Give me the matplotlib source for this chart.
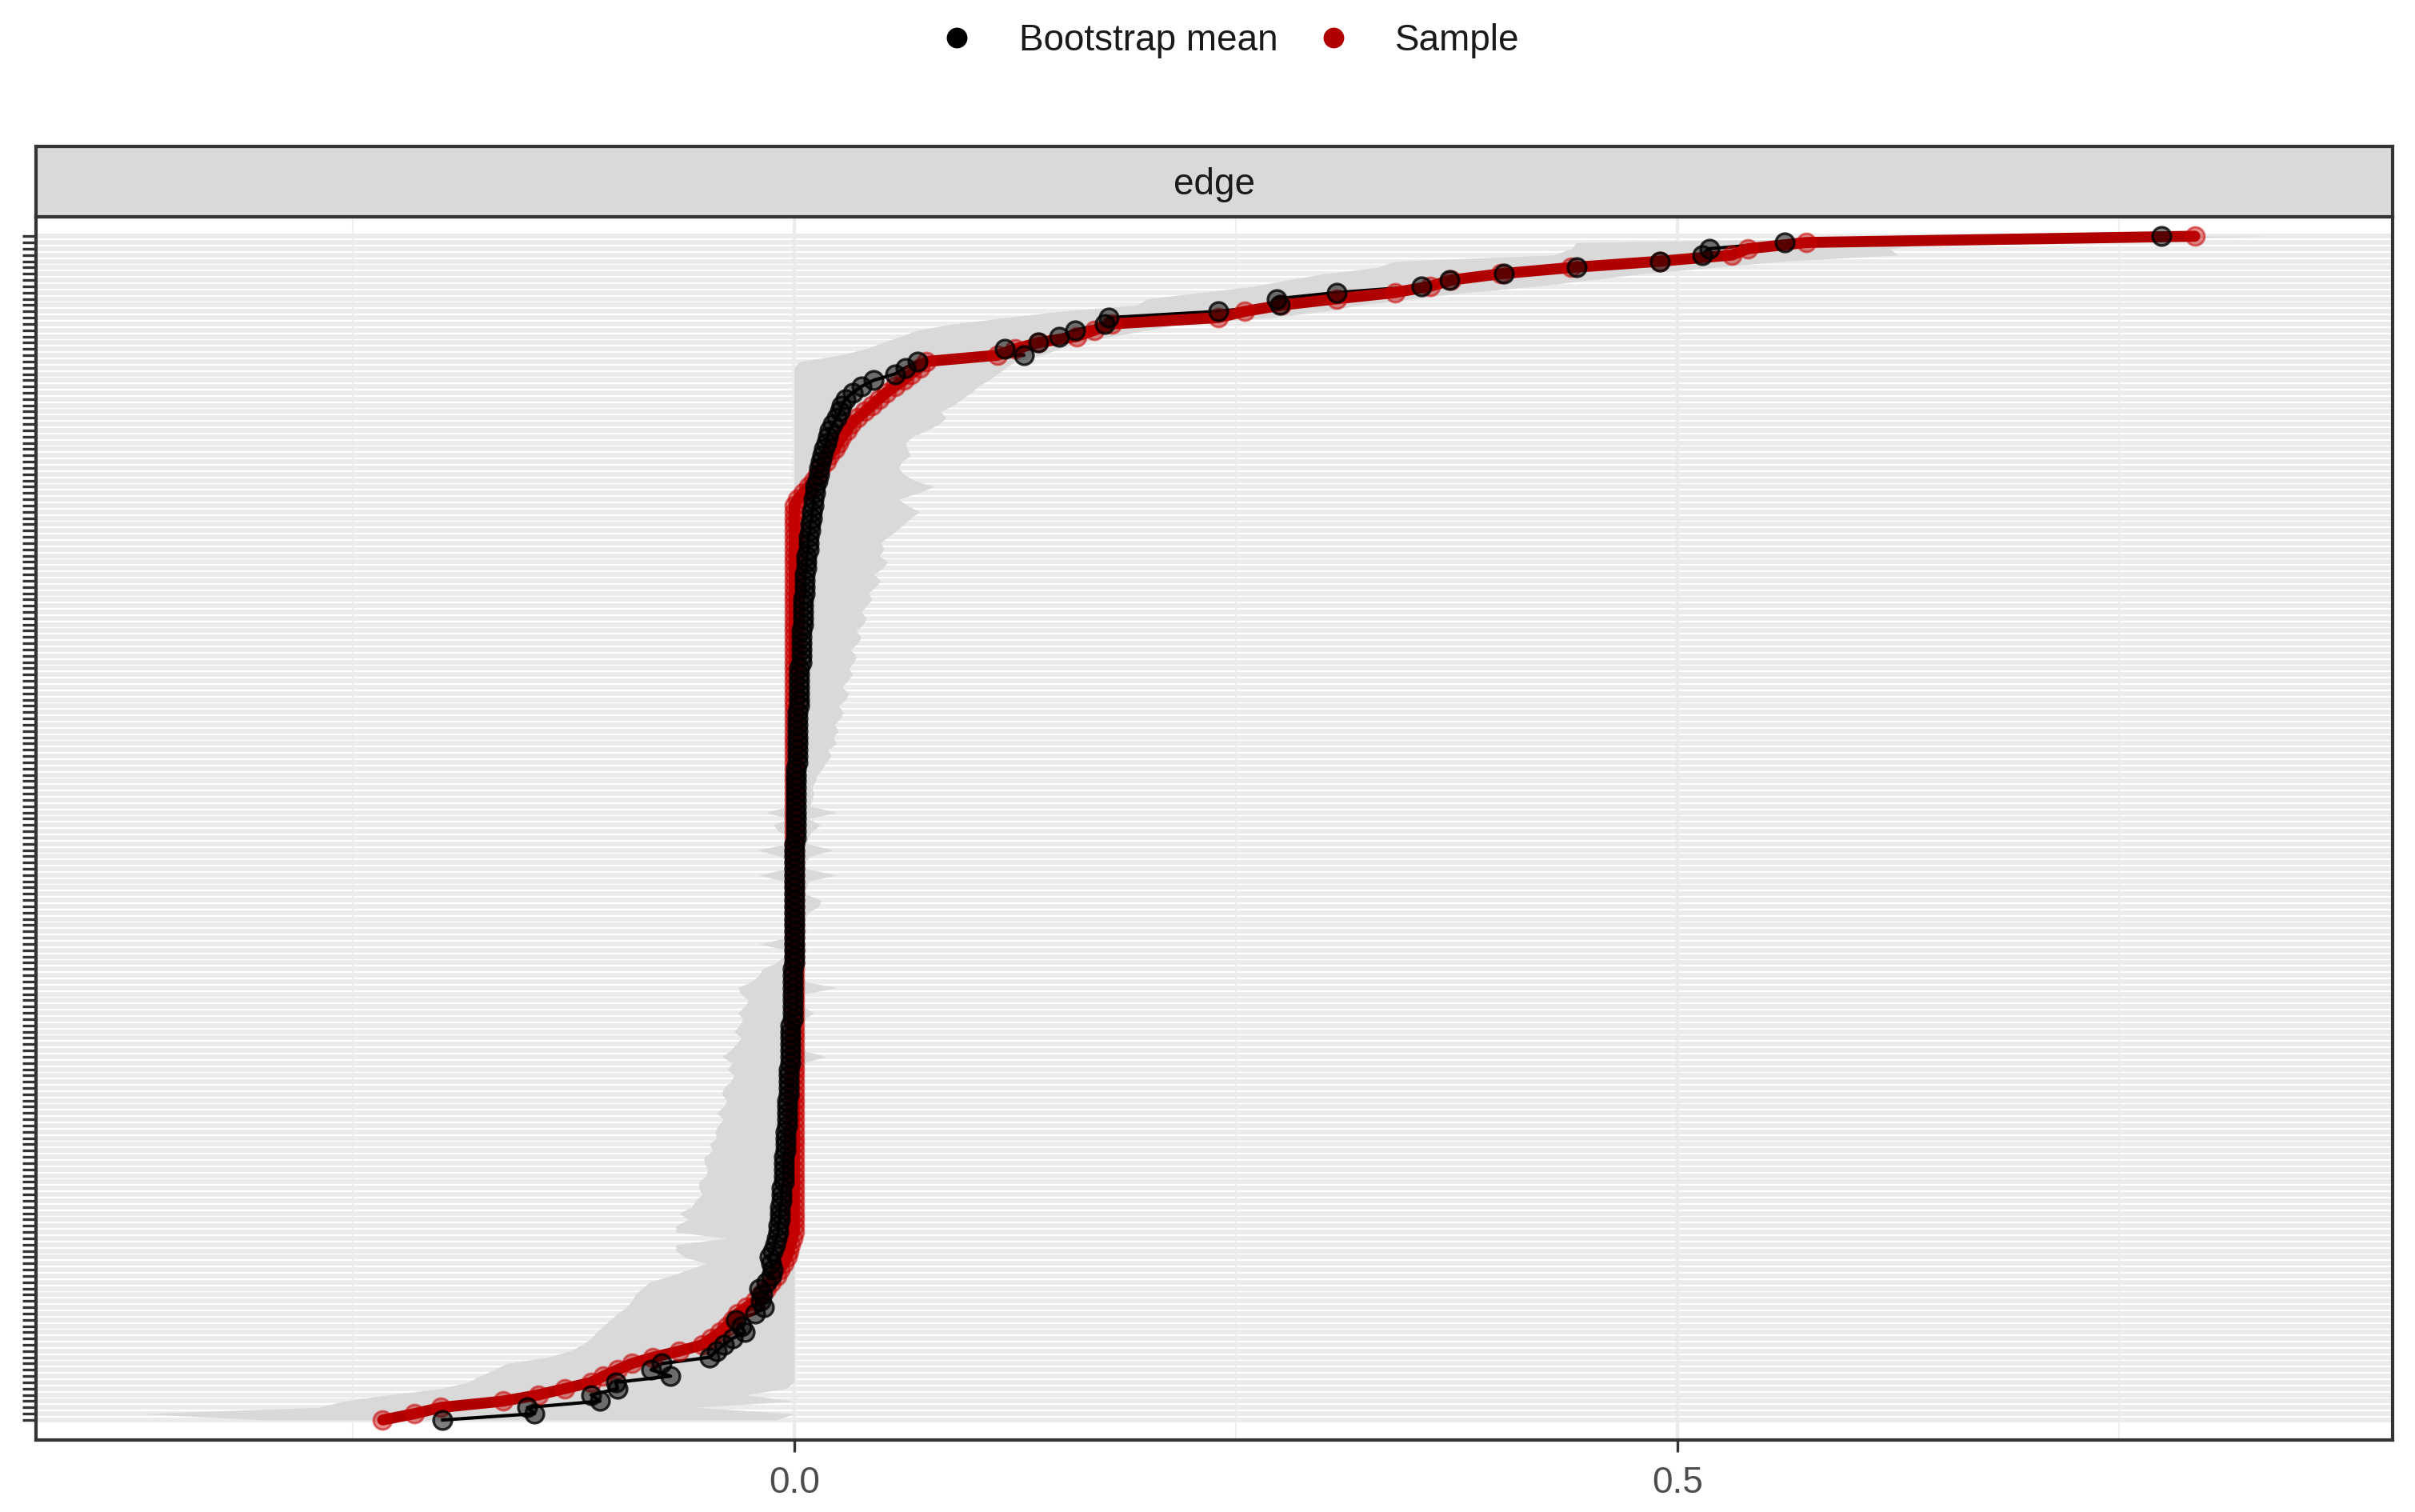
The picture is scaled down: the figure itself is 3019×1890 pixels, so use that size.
import numpy as np
import matplotlib
matplotlib.use("Agg")
import matplotlib.pyplot as plt
from matplotlib.lines import Line2D

plt.rcParams['font.family'] = ['Liberation Sans', 'DejaVu Sans']

# ---------------- data (rows ordered by sample value, bottom -> top) ----------------
sample = ([-0.233, -0.215, -0.200, -0.165, -0.145, -0.130, -0.115, -0.108, -0.100, -0.092,
           -0.080, -0.065, -0.052, -0.047, -0.042, -0.038, -0.035, -0.032, -0.027, -0.022,
           -0.019, -0.016, -0.013, -0.010, -0.008, -0.006, -0.004, -0.003, -0.002, -0.001]
          + [0.0] * 117 +
          [0.002, 0.005, 0.008, 0.011, 0.013, 0.015, 0.018, 0.020, 0.023, 0.025,
           0.027, 0.030, 0.032, 0.036, 0.040, 0.044, 0.048, 0.052, 0.057, 0.062,
           0.066, 0.071, 0.075, 0.115, 0.125, 0.138, 0.160, 0.170, 0.180, 0.240,
           0.255, 0.276, 0.307, 0.340, 0.360, 0.372, 0.400, 0.440, 0.490, 0.531,
           0.540, 0.573, 0.793])

boot_mean = [-0.199, -0.147, -0.151, -0.110, -0.115, -0.100, -0.101, -0.070, -0.081, -0.075,
             -0.048, -0.044, -0.040, -0.035, -0.028, -0.030, -0.033, -0.022, -0.017, -0.019,
             -0.018, -0.020, -0.016, -0.013, -0.012, -0.013, -0.014, -0.012, -0.011, -0.010,
             -0.009, -0.009, -0.008, -0.008, -0.008, -0.007, -0.007, -0.007, -0.006, -0.006,
             -0.006, -0.006, -0.006, -0.005, -0.005, -0.005, -0.005, -0.004, -0.004, -0.004,
             -0.004, -0.004, -0.003, -0.003, -0.003, -0.003, -0.003, -0.002, -0.002, -0.002,
             -0.002, -0.002, -0.002, -0.002, -0.001, -0.001, -0.001, -0.001, -0.001, -0.001,
             -0.001, -0.001, -0.001, 0.000, 0.000, 0.000, 0.000, 0.000, 0.000, 0.000,
             0.000, 0.000, 0.000, 0.000, 0.000, 0.000, 0.000, 0.000, 0.000, 0.000,
             0.000, 0.000, 0.000, 0.001, 0.001, 0.001, 0.001, 0.001, 0.001, 0.001,
             0.001, 0.001, 0.001, 0.001, 0.001, 0.002, 0.002, 0.002, 0.002, 0.002,
             0.002, 0.002, 0.002, 0.002, 0.003, 0.003, 0.003, 0.003, 0.003, 0.003,
             0.003, 0.004, 0.004, 0.004, 0.004, 0.004, 0.004, 0.005, 0.005, 0.005,
             0.005, 0.005, 0.006, 0.006, 0.006, 0.006, 0.007, 0.007, 0.007, 0.008,
             0.008, 0.008, 0.009, 0.009, 0.010, 0.010, 0.011,
             0.011, 0.012, 0.012, 0.013, 0.014, 0.014, 0.015, 0.016, 0.017, 0.018,
             0.019, 0.020, 0.022, 0.024, 0.026, 0.027, 0.029, 0.033, 0.038, 0.045,
             0.057, 0.063, 0.070, 0.130, 0.119, 0.138, 0.150, 0.159, 0.176, 0.178,
             0.240, 0.275, 0.273, 0.307, 0.355, 0.371, 0.402, 0.443, 0.490, 0.514,
             0.518, 0.561, 0.774]

ci_lower = ([-0.300, -0.370, -0.270, -0.255, -0.230, -0.200, -0.185, -0.178, -0.170, -0.163,
             -0.140, -0.127, -0.120, -0.115, -0.112, -0.108, -0.104, -0.100, -0.095, -0.092,
             -0.090, -0.086, -0.082, -0.070, -0.060, -0.050, -0.062, -0.067, -0.067, -0.038,
             -0.067, -0.067, -0.060, -0.065, -0.058, -0.056, -0.052, -0.054, -0.054, -0.050,
             -0.049, -0.051,
             -0.051, -0.046, -0.048, -0.044, -0.045, -0.043, -0.040, -0.044, -0.040, -0.038,
             -0.041, -0.040, -0.036, -0.034, -0.038, -0.035, -0.041, -0.036, -0.033, -0.030,
             -0.034, -0.031, -0.029, -0.032, -0.028, -0.026, -0.030, -0.032, -0.024, -0.020,
             -0.018,
             -0.010, -0.006, -0.004, -0.020, -0.004, -0.003, -0.003, -0.002, -0.004, -0.002,
             -0.002, -0.003, -0.002, -0.006, -0.020, -0.004, -0.002, -0.008, -0.021, -0.003,
             -0.002, -0.009, -0.012, -0.003, -0.016, -0.002, -0.001, -0.001, 0.000, 0.000,
             0.000]
            + [0.0] * 65 +
            [0.003, 0.026, 0.040, 0.050, 0.060, 0.070, 0.090, 0.120, 0.150, 0.194,
             0.200, 0.230, 0.260, 0.279, 0.300, 0.330, 0.340, 0.430, 0.440, 0.443,
             0.686])

ci_upper = [-0.010, 0.000, -0.056, 0.000, -0.028, -0.005, 0.000, 0.000, 0.000, 0.000,
            0.000, 0.000, 0.000, 0.000, 0.000, 0.000, 0.000, 0.000, 0.000, 0.000,
            0.000, 0.000, 0.000, 0.000, 0.000, 0.000, 0.000, 0.000, 0.000, 0.000,
            0.002, 0.003, 0.002, 0.003, 0.004, 0.003, 0.002, 0.003, 0.004, 0.003,
            0.003, 0.004, 0.003, 0.002, 0.004, 0.005, 0.003, 0.004, 0.003, 0.005,
            0.004, 0.006, 0.004, 0.003, 0.005, 0.004, 0.006, 0.005, 0.018, 0.005,
            0.004, 0.006, 0.005, 0.004, 0.006, 0.011, 0.005, 0.006, 0.005, 0.024,
            0.006, 0.005, 0.006,
            0.006, 0.005, 0.007, 0.006, 0.005, 0.007, 0.006, 0.006, 0.008, 0.014,
            0.015, 0.006, 0.007, 0.008, 0.024, 0.007, 0.006, 0.009, 0.022, 0.007,
            0.008, 0.010, 0.015, 0.008, 0.024, 0.009, 0.010, 0.011, 0.010, 0.012,
            0.013,
            0.016, 0.018, 0.021, 0.019, 0.024, 0.022, 0.025, 0.023, 0.026, 0.028,
            0.025, 0.029, 0.031, 0.027, 0.030, 0.033, 0.031, 0.034, 0.035, 0.032,
            0.036, 0.038, 0.035, 0.039, 0.041, 0.038, 0.041, 0.044, 0.042, 0.046,
            0.049, 0.045, 0.050, 0.053,
            0.048, 0.051, 0.049, 0.053, 0.058, 0.062, 0.066, 0.071, 0.064, 0.059,
            0.070, 0.079, 0.068, 0.062, 0.059, 0.061, 0.066, 0.064, 0.063, 0.067,
            0.075, 0.082, 0.086, 0.083, 0.090, 0.095, 0.100, 0.104, 0.110, 0.115,
            0.120,
            0.125, 0.140, 0.150, 0.160, 0.180, 0.200, 0.220, 0.270, 0.300, 0.320,
            0.350, 0.380, 0.420, 0.450, 0.480, 0.520, 0.560, 0.625, 0.620, 0.650,
            0.835]

x_ticks = [0.0, 0.5]
x_tick_labels = ["0.0", "0.5"]
x_minor = [-0.25, 0.25, 0.75]
panel_label = "edge"
series_names = ["Bootstrap mean", "Sample"]

# ---------------- figure ----------------
W, H, DPI = 3019, 1890, 300
fig = plt.figure(figsize=(W / DPI, H / DPI), dpi=DPI)
fig.patch.set_facecolor('white')

px_l, px_r, px_strip_top, px_panel_top, px_panel_bot = 45, 2991, 183, 271, 1800
ax = fig.add_axes([px_l / W, 1 - px_panel_bot / H, (px_r - px_l) / W, (px_panel_bot - px_panel_top) / H])
sax = fig.add_axes([px_l / W, 1 - px_panel_top / H, (px_r - px_l) / W, (px_panel_top - px_strip_top) / H])

rows = np.arange(len(sample))
RED = '#B00000'

ax.set_facecolor('white')
ax.fill_betweenx(rows, ci_lower, ci_upper, color='#D9D9D9', lw=0, zorder=2)
ax.plot(boot_mean, rows, color='black', lw=1.0, zorder=3)
ax.plot(sample, rows, color=RED, lw=3.3, solid_capstyle='round', zorder=4)
ax.plot(sample, rows, linestyle='None', marker='o', markersize=5.5,
        markerfacecolor=(0.78, 0.0, 0.0, 0.45), markeredgecolor=(0.78, 0.0, 0.0, 0.55),
        markeredgewidth=0.7, zorder=5)
ax.plot(boot_mean, rows, linestyle='None', marker='o', markersize=5.5,
        markerfacecolor=(0, 0, 0, 0.5), markeredgecolor=(0, 0, 0, 0.8),
        markeredgewidth=0.8, zorder=6)

ax.set_xlim(-0.4293, 0.905)
ax.set_ylim(-3.2, len(sample) - 1 + 3.1)
ax.set_yticks(rows)
ax.set_yticklabels([])
ax.set_xticks(x_ticks)
ax.set_xticklabels(x_tick_labels)
ax.set_xticks(x_minor, minor=True)
ax.grid(axis='y', which='major', color='#EBEBEB', lw=1.4, zorder=0)
ax.grid(axis='x', which='major', color='#EBEBEB', lw=1.0, zorder=0)
ax.grid(axis='x', which='minor', color='#F0F0F0', lw=0.5, zorder=0)
ax.set_axisbelow(True)
ax.tick_params(axis='y', length=4.0, width=0.8, color='#333333', left=True)
ax.tick_params(axis='x', which='major', length=3.6, width=0.8, color='#333333',
               labelsize=11, labelcolor='#4D4D4D', pad=4)
ax.tick_params(axis='x', which='minor', length=0)
for s in ax.spines.values():
    s.set_color('#333333')
    s.set_linewidth(1.0)

sax.set_facecolor('#D9D9D9')
sax.set_xticks([])
sax.set_yticks([])
for s in sax.spines.values():
    s.set_color('#333333')
    s.set_linewidth(1.0)
sax.text(0.5, 0.46, panel_label, ha='center', va='center', fontsize=11, color='#1A1A1A',
         transform=sax.transAxes)

handles = [Line2D([], [], linestyle='None', marker='o', markersize=5.2, color='black'),
           Line2D([], [], linestyle='None', marker='o', markersize=5.2, color=RED)]
fig.legend(handles, series_names, loc='center', bbox_to_anchor=(0.509, 1 - 51 / H),
           ncol=2, frameon=False, fontsize=11, handlelength=1.0, handletextpad=1.2,
           columnspacing=1.0, labelcolor='#1A1A1A')

fig.savefig('out.png', dpi=DPI, facecolor='white')
